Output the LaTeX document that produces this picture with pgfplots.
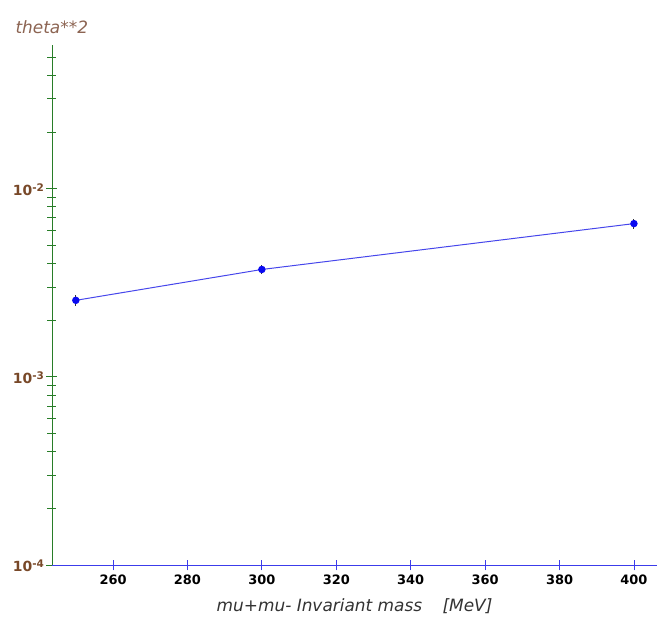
\documentclass[border=0pt]{standalone}
\usepackage{fontspec}
\setmainfont{DejaVu Sans}
\usepackage{pgfplots}
\pgfplotsset{compat=1.18}
\definecolor{ygreen}{RGB}{40,125,40}
\definecolor{xblue}{RGB}{60,60,235}
\definecolor{labbrown}{RGB}{120,72,40}
\definecolor{titbrown}{RGB}{140,100,82}
\definecolor{linecol}{RGB}{70,70,235}
\definecolor{ptblue}{RGB}{10,10,240}
\newcommand{\sups}[1]{\raisebox{0.55ex}{\fontsize{10.5}{12}\selectfont #1}}
\begin{document}
\begin{tikzpicture}
\begin{axis}[
  ymode=log,
  scale only axis,
  width=605bp, height=520bp,
  xmin=243.6, xmax=406.2,
  ymin=1e-4, ymax=5.8e-2,
  axis lines*=left,
  x axis line style={draw=xblue, line width=0.9pt},
  y axis line style={draw=ygreen, line width=0.9pt},
  xtick={260,280,300,320,340,360,380,400},
  xticklabels={260,280,300,320,340,360,380,400},
  ytick={1e-4,1e-3,1e-2},
  yticklabels={10\sups{-4},10\sups{-3},10\sups{-2}},
  minor ytick={2e-4,3e-4,4e-4,5e-4,6e-4,7e-4,8e-4,9e-4,2e-3,3e-3,4e-3,5e-3,6e-3,7e-3,8e-3,9e-3,2e-2,3e-2,4e-2,5e-2},
  tick align=center,
  major tick length=11bp,
  minor tick length=9bp,
  x tick style={draw=xblue, line width=0.8pt},
  y tick style={draw=ygreen, line width=0.8pt},
  minor y tick style={draw=ygreen, line width=0.8pt},
  x tick label style={font=\fontsize{13}{15}\selectfont\bfseries, text=black, yshift=-1bp},
  y tick label style={font=\fontsize{14}{16}\selectfont\bfseries, text=labbrown, xshift=1bp, yshift=-1bp},
  clip=false,
]
\addplot[color=linecol, line width=1pt, mark=*, mark size=3.2pt,
  mark options={draw=ptblue, fill=ptblue},
  error bars/.cd, y dir=both, y explicit,
  error bar style={draw=black!80, line width=0.9pt}, error mark=none]
  coordinates {
    (250, 2.55e-3) +- (0, 0.16e-3)
    (300, 3.72e-3) +- (0, 0.22e-3)
    (400, 6.52e-3) +- (0, 0.40e-3)
  };
\coordinate (sw) at (rel axis cs:0,0);
\coordinate (ne) at (rel axis cs:1,1);
\node[anchor=base west, font=\fontsize{17}{19}\selectfont\itshape, text=titbrown]
  at ([shift={(-40bp,11bp)}]rel axis cs:0,1) {theta**2};
\node[anchor=base, font=\fontsize{17}{19}\selectfont\itshape, text=black!80]
  at ([shift={(0bp,-46bp)}]rel axis cs:0.5,0) {mu+mu- Invariant mass\hspace{1.2em}[MeV]};
\end{axis}
\pgfresetboundingbox
\useasboundingbox ([shift={(-52bp,-66bp)}]sw) rectangle ([shift={(13bp,45bp)}]ne);
\end{tikzpicture}
\end{document}
